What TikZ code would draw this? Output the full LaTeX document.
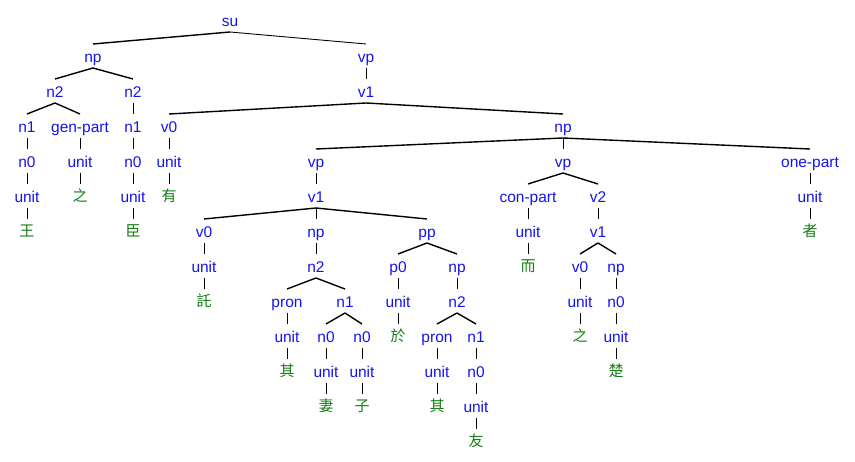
\documentclass[tikz,border=0pt]{standalone}
\usepackage{fontspec}
\setmainfont{Liberation Sans}
\newfontfamily\cjkfont{Noto Sans CJK TC}
\definecolor{lblblue}{RGB}{20,20,240}
\definecolor{lblgreen}{RGB}{20,125,20}
\begin{document}
\begin{tikzpicture}[x=1pt,y=-1pt,
  lbl/.style={inner sep=0pt,text height=12pt,text depth=2pt,text=lblblue,font=\fontsize{15.5}{17}\selectfont},
  chn/.style={inner sep=0pt,text height=11pt,text depth=3pt,text=lblgreen,font=\cjkfont\fontsize{15}{17}\selectfont},
  br/.style={line width=1.4pt,black},
  vt/.style={line width=0.9pt,black}]
\useasboundingbox (0,0) rectangle (855,462);
\newcommand{\Br}[3][br]{\draw[#1] ([yshift=-10pt]#2.center) -- ([yshift=14pt]#3.center);}
\newcommand{\Vt}[2]{\draw[vt] ([yshift=-10pt]#1.center) -- ([yshift=14pt]#2.center);}
% level 0
\node[lbl] (su) at (230,22) {su};
% level 1
\node[lbl] (np1) at (93,58) {np};
\node[lbl] (vp1) at (366,58) {vp};
% level 2
\node[lbl] (n2a) at (55,93) {n2};
\node[lbl] (n2b) at (133,93) {n2};
\node[lbl] (v1a) at (366,93) {v1};
% level 3
\node[lbl] (n1a) at (27,128) {n1};
\node[lbl] (gen) at (80,128) {gen-part};
\node[lbl] (n1b) at (133,128) {n1};
\node[lbl] (v0a) at (169,128) {v0};
\node[lbl] (np2) at (563,128) {np};
% level 4
\node[lbl] (n0a) at (27,163) {n0};
\node[lbl] (ugen) at (80,163) {unit};
\node[lbl] (n0b) at (133,163) {n0};
\node[lbl] (uv0a) at (169,163) {unit};
\node[lbl] (vp2) at (316,163) {vp};
\node[lbl] (vp3) at (563,163) {vp};
\node[lbl] (onep) at (810,163) {one-part};
% level 5
\node[lbl] (ua) at (27,198) {unit};
\node[chn] (zhi1) at (80,198) {之};
\node[lbl] (ub) at (133,198) {unit};
\node[chn] (you) at (169,198) {有};
\node[lbl] (v1b) at (316,198) {v1};
\node[lbl] (conp) at (528,198) {con-part};
\node[lbl] (v2) at (598,198) {v2};
\node[lbl] (uone) at (810,198) {unit};
% level 6
\node[chn] (wang) at (27,233) {王};
\node[chn] (chen) at (133,233) {臣};
\node[lbl] (v0b) at (204,233) {v0};
\node[lbl] (np3) at (316,233) {np};
\node[lbl] (pp) at (427,233) {pp};
\node[lbl] (ucon) at (528,233) {unit};
\node[lbl] (v1c) at (598,233) {v1};
\node[chn] (zhe) at (810,233) {者};
% level 7
\node[lbl] (uv0b) at (204,268) {unit};
\node[lbl] (n2c) at (316,268) {n2};
\node[lbl] (p0) at (398,268) {p0};
\node[lbl] (np4) at (457,268) {np};
\node[chn] (er) at (528,268) {而};
\node[lbl] (v0c) at (580,268) {v0};
\node[lbl] (np5) at (616,268) {np};
% level 8
\node[chn] (tuo) at (204,303) {託};
\node[lbl] (pron1) at (287,303) {pron};
\node[lbl] (n1c) at (345,303) {n1};
\node[lbl] (up0) at (398,303) {unit};
\node[lbl] (n2d) at (457,303) {n2};
\node[lbl] (uv0c) at (580,303) {unit};
\node[lbl] (n0c) at (616,303) {n0};
% level 9
\node[lbl] (upron1) at (287,338) {unit};
\node[lbl] (n0d) at (326,338) {n0};
\node[lbl] (n0e) at (362,338) {n0};
\node[chn] (yu) at (398,338) {於};
\node[lbl] (pron2) at (437,338) {pron};
\node[lbl] (n1d) at (476,338) {n1};
\node[chn] (zhi2) at (580,338) {之};
\node[lbl] (un0c) at (616,338) {unit};
% level 10
\node[chn] (qi1) at (287,373) {其};
\node[lbl] (un0d) at (326,373) {unit};
\node[lbl] (un0e) at (362,373) {unit};
\node[lbl] (upron2) at (437,373) {unit};
\node[lbl] (n0f) at (476,373) {n0};
\node[chn] (chu) at (616,373) {楚};
% level 11
\node[chn] (qi) at (326,408) {妻};
\node[chn] (zi) at (362,408) {子};
\node[chn] (qi2) at (437,408) {其};
\node[lbl] (un0f) at (476,408) {unit};
% level 12
\node[chn] (you2) at (476,443) {友};
% edges
\Br{su}{np1} \Br[vt]{su}{vp1}
\Br{np1}{n2a} \Br{np1}{n2b}
\Vt{vp1}{v1a}
\Br{n2a}{n1a} \Br{n2a}{gen}
\Vt{n2b}{n1b}
\Br{v1a}{v0a} \Br{v1a}{np2}
\Vt{n1a}{n0a} \Vt{gen}{ugen} \Vt{n1b}{n0b} \Vt{v0a}{uv0a}
\Br{np2}{vp2} \Vt{np2}{vp3} \Br{np2}{onep}
\Vt{n0a}{ua} \Vt{ugen}{zhi1} \Vt{n0b}{ub} \Vt{uv0a}{you}
\Vt{vp2}{v1b}
\Br{vp3}{conp} \Br{vp3}{v2}
\Vt{onep}{uone}
\Vt{ua}{wang} \Vt{ub}{chen}
\Br{v1b}{v0b} \Vt{v1b}{np3} \Br{v1b}{pp}
\Vt{conp}{ucon} \Vt{v2}{v1c} \Vt{uone}{zhe}
\Vt{v0b}{uv0b} \Vt{np3}{n2c}
\Br{pp}{p0} \Br{pp}{np4}
\Vt{ucon}{er}
\Br{v1c}{v0c} \Br{v1c}{np5}
\Vt{uv0b}{tuo}
\Br{n2c}{pron1} \Br{n2c}{n1c}
\Vt{p0}{up0} \Vt{np4}{n2d}
\Vt{v0c}{uv0c} \Vt{np5}{n0c}
\Vt{pron1}{upron1}
\Br{n1c}{n0d} \Br{n1c}{n0e}
\Vt{up0}{yu}
\Br{n2d}{pron2} \Br{n2d}{n1d}
\Vt{uv0c}{zhi2} \Vt{n0c}{un0c}
\Vt{upron1}{qi1} \Vt{n0d}{un0d} \Vt{n0e}{un0e}
\Vt{pron2}{upron2} \Vt{n1d}{n0f} \Vt{un0c}{chu}
\Vt{un0d}{qi} \Vt{un0e}{zi} \Vt{upron2}{qi2} \Vt{n0f}{un0f}
\Vt{un0f}{you2}
\end{tikzpicture}
\end{document}
